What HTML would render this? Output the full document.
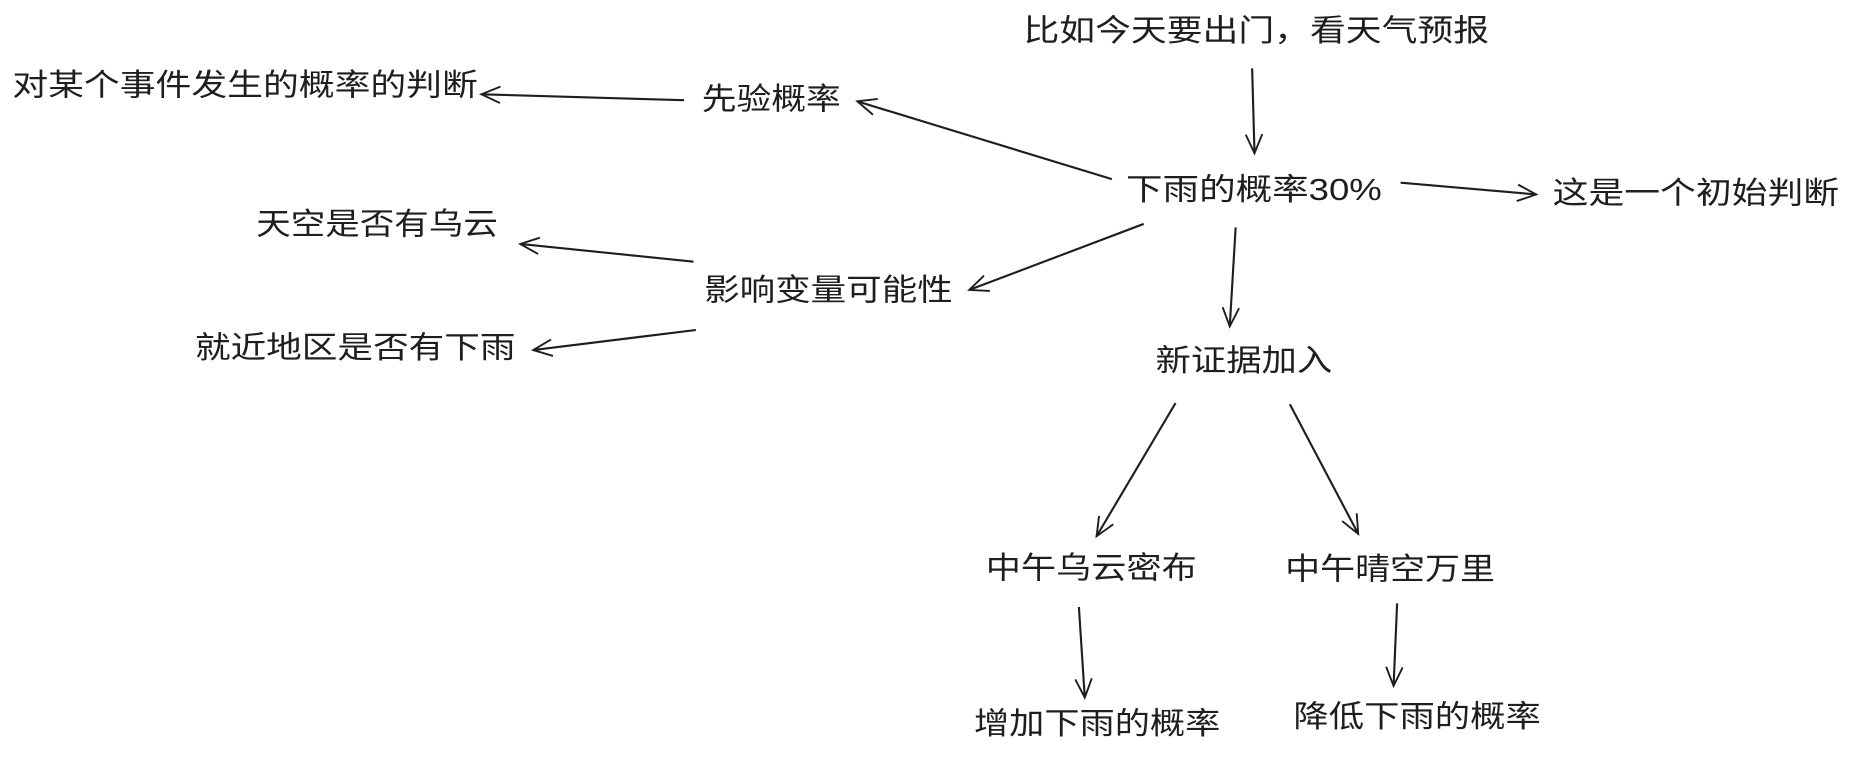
<!DOCTYPE html>
<html><head><meta charset="utf-8"><style>
html,body{margin:0;padding:0;background:#fff;}
svg{display:block;}
text{font-family:"Liberation Sans","Noto Sans CJK SC","WenQuanYi Zen Hei",sans-serif;font-size:26px;fill:#1e1e1e;dominant-baseline:middle;}
</style></head><body>
<svg width="1849" height="759" viewBox="0 0 1568 644" xmlns="http://www.w3.org/2000/svg">
<defs>
<marker id="a" viewBox="0 0 20 20" refX="18" refY="10" markerWidth="20" markerHeight="20" markerUnits="userSpaceOnUse" orient="auto">
<path d="M2,3 L18,10 L2,17" fill="none" stroke="#1e1e1e" stroke-width="1.6"/>
</marker>
</defs>
<g fill="none" stroke="#1e1e1e" stroke-width="1.8" marker-end="url(#a)">
<line x1="1062" y1="58" x2="1064" y2="130"/>
<line x1="1188" y1="155" x2="1303" y2="165"/>
<line x1="943" y1="152" x2="727" y2="86"/>
<line x1="580" y1="85" x2="408" y2="80"/>
<line x1="970" y1="190" x2="822" y2="246"/>
<line x1="588" y1="222" x2="441" y2="207"/>
<line x1="590" y1="280" x2="452" y2="297"/>
<line x1="1048" y1="193" x2="1043" y2="277"/>
<line x1="997" y1="342" x2="930" y2="455"/>
<line x1="1094" y1="343" x2="1152" y2="453"/>
<line x1="915" y1="515" x2="920" y2="592"/>
<line x1="1185" y1="512" x2="1182" y2="582"/>
</g>
<g transform="translate(0,2)">
<text x="868" y="26" textLength="395" lengthAdjust="spacingAndGlyphs">比如今天要出门，看天气预报</text>
<text x="955" y="161" textLength="217" lengthAdjust="spacingAndGlyphs">下雨的概率30%</text>
<text x="1317" y="164" textLength="243" lengthAdjust="spacingAndGlyphs">这是一个初始判断</text>
<text x="595" y="84" textLength="118" lengthAdjust="spacingAndGlyphs">先验概率</text>
<text x="10" y="72" textLength="395" lengthAdjust="spacingAndGlyphs">对某个事件发生的概率的判断</text>
<text x="597" y="246" textLength="211" lengthAdjust="spacingAndGlyphs">影响变量可能性</text>
<text x="217" y="190" textLength="205" lengthAdjust="spacingAndGlyphs">天空是否有乌云</text>
<text x="165" y="295" textLength="272" lengthAdjust="spacingAndGlyphs">就近地区是否有下雨</text>
<text x="980" y="306" textLength="150" lengthAdjust="spacingAndGlyphs">新证据加入</text>
<text x="836" y="482" textLength="179" lengthAdjust="spacingAndGlyphs">中午乌云密布</text>
<text x="1090" y="483" textLength="178" lengthAdjust="spacingAndGlyphs">中午晴空万里</text>
<text x="826" y="614" textLength="209" lengthAdjust="spacingAndGlyphs">增加下雨的概率</text>
<text x="1097" y="608" textLength="210" lengthAdjust="spacingAndGlyphs">降低下雨的概率</text>
</g>
</svg>
</body></html>
